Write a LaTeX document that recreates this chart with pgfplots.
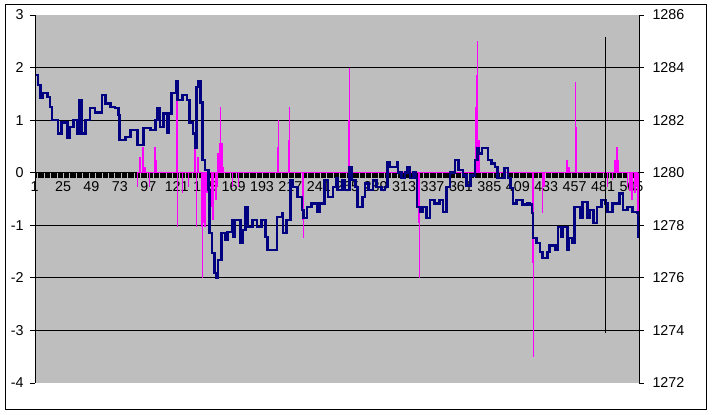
\documentclass[border=0pt]{standalone}
\usepackage{pgfplots}
\pgfplotsset{compat=1.18}
\usepackage{fontspec}
\setmainfont{Liberation Sans}
\definecolor{bggray}{RGB}{190,190,190}
\definecolor{navyline}{RGB}{0,0,128}
\definecolor{mag}{RGB}{255,0,255}
\begin{document}
\begin{tikzpicture}
\useasboundingbox (0,0) rectangle (713bp,415bp);
\fill[white] (0,0) rectangle (713bp,415bp);
\draw[line width=1bp] (5.5bp,5.5bp) rectangle (706.5bp,410.5bp);
\begin{axis}[
  at={(35bp,32bp)}, anchor=south west,
  scale only axis, width=604bp, height=368bp,
  xmin=0.5, xmax=510.5, ymin=-4, ymax=3,
  axis x line=middle, axis y line=left,
  axis line style={-, black, line width=0.8bp},
  axis background/.style={fill=bggray},
  tick align=outside,
  xtick={1,25,...,505},
  xticklabels={1,25,49,73,97,121,145,169,193,217,241,265,289,313,337,361,385,409,433,457,481,505},
  minor xtick={1,...,510},
  ytick={-4,...,3},
  yticklabels={-4,-3,-2,-1,0,1,2,3},
  extra y ticks={-3,-2,-1,1,2},
  extra y tick labels={},
  extra y tick style={grid=major, major tick length=0pt},
  major grid style={black, line width=0.8bp},
  major tick length=5bp, minor tick length=5.5bp,
  tick style={black, line width=0.8bp},
  minor tick style={black, line width=0.85bp},
  tick label style={font=\fontsize{14.3bp}{16bp}\selectfont},
  yticklabel style={xshift=-3bp},
  xticklabel style={xshift=-1bp},
  clip=true,
]
% magenta line along zero
\addplot[mag, line width=0.9bp] coordinates {(87,0) (510,0)};
% thin magenta spikes (full extent)
\addplot[mag, line width=0.9bp, ycomb, mark=none] coordinates {
(87,-0.27) (97,-0.27) (121,-1.03) (125,-0.39) (130,-0.27) (137,-1.03) (141,-1.03)
(142,-2.0) (157,1.25) (167,-0.27) (172,-0.27) (206,1.0) (215,1.25) (227,-1.24)
(266,2.0) (325,-2.0) (374,2.5) (421,-3.5) (429,-0.77) (457,1.73)
(484,-0.27) (488,-0.14) (501,-0.27)
};
% thick magenta spikes
\addplot[mag, line width=2bp, ycomb, mark=none] coordinates {
(89,0.3) (92,0.49) (93,0.11) (102,0.49) (103,0.24) (120,1.52) (136,0.47) (138,0.3)
(143,-0.96) (144,-1.03) (146,-0.39) (150,-0.65) (151,-0.9) (153,-0.52) (154,-0.27)
(155,0.37) (157,0.56) (158,0.56) (159,0.11) (206,0.49) (215,0.62) (227,-0.9)
(266,1.0) (325,-0.96) (373,1.25) (374,1.86) (375,0.62) (421,-1.72) (430,-0.27)
(450,0.24) (451,0.11) (457,0.87) (490,0.24) (492,0.49) (493,0.24) (503,-0.34)
(505,-0.52) (507,-0.39) (509,-0.27) (510,-0.77)
};
\end{axis}
\begin{axis}[
  at={(35bp,32bp)}, anchor=south west,
  scale only axis, width=604bp, height=368bp,
  xmin=0.5, xmax=510.5, ymin=1272, ymax=1286,
  axis x line=none, axis y line*=right,
  axis line style={-, black, line width=0.8bp},
  tick align=outside,
  ytick={1272,1274,...,1286},
  yticklabels={1272,1274,1276,1278,1280,1282,1284,1286},
  major tick length=5bp,
  tick style={black, line width=0.8bp},
  tick label style={font=\fontsize{14.3bp}{16bp}\selectfont},
  yticklabel style={xshift=5bp},
  clip=true,
]
\addplot[navyline, line width=2.6bp, const plot, mark=none] coordinates {
(1,1283.72) (3,1283.34) (5,1282.84) (7,1283.04) (11,1282.88) (13,1282.5) (15,1282.0)
(20,1281.5) (23,1281.9) (28,1281.32) (30,1281.74) (33,1282.0) (36,1281.5) (38,1282.76)
(40,1281.5) (43,1282.0) (47,1282.46) (51,1282.3) (57,1282.96) (60,1282.64) (64,1282.5)
(68,1282.46) (71,1282.2) (72,1281.24) (77,1281.36) (81,1281.62) (87,1281.06) (92,1281.7)
(98,1281.62) (102,1282.0) (104,1282.46) (106,1281.74) (109,1282.26) (112,1281.54)
(113,1282.26) (116,1283.04) (120,1283.46) (121,1282.76) (125,1282.96) (129,1282.76)
(131,1281.9) (134,1281.5) (136,1280.94) (137,1283.26) (138,1283.46) (140,1282.66)
(142,1280.48) (144,1280.1) (147,1279.34) (148,1277.7) (150,1276.94) (152,1276.18)
(154,1276.0) (155,1276.68) (158,1277.7) (161,1277.44) (163,1277.74) (167,1278.2)
(168,1277.56) (169,1278.2) (174,1277.32) (176,1277.82) (178,1278.7) (180,1277.94)
(184,1278.2) (188,1277.94) (192,1278.2) (195,1277.56) (197,1277.06) (203,1277.06)
(205,1278.32) (209,1278.46) (210,1277.7) (213,1278.2) (216,1279.72) (218,1279.46)
(222,1279.08) (226,1278.58) (227,1278.28) (230,1278.7) (234,1278.84) (239,1278.5)
(241,1278.84) (245,1279.72) (248,1279.08) (252,1279.46) (255,1279.8) (256,1279.34)
(260,1279.72) (262,1279.34) (266,1280.22) (268,1279.72) (271,1279.46) (273,1278.7)
(277,1279.08) (279,1279.6) (282,1279.34) (286,1279.72) (289,1279.46) (293,1279.34)
(296,1279.46) (298,1280.4) (300,1280.22) (306,1280.4) (307,1280.0) (310,1279.8)
(313,1280.0) (315,1280.22) (317,1279.8) (320,1280.0) (322,1279.8) (323,1278.7)
(326,1278.5) (328,1278.7) (331,1278.28) (334,1278.96) (338,1278.84) (342,1278.96)
(345,1278.5) (348,1279.46) (351,1280.0) (355,1280.48) (358,1280.1) (362,1279.9)
(365,1279.52) (368,1279.9) (372,1280.48) (374,1280.94) (375,1280.74) (378,1280.94)
(383,1280.48) (386,1280.36) (389,1280.22) (391,1279.8) (397,1280.18) (400,1279.8)
(402,1279.42) (404,1278.84) (407,1278.96) (412,1278.78) (416,1278.84) (418,1278.78)
(420,1278.46) (421,1277.52) (424,1277.32) (427,1276.98) (429,1276.76) (433,1276.98)
(435,1277.24) (440,1277.06) (442,1277.94) (445,1277.56) (446,1277.94) (450,1277.06)
(451,1277.52) (454,1277.32) (456,1278.7) (461,1278.28) (463,1278.88) (467,1278.28)
(469,1278.58) (472,1278.08) (475,1278.7) (479,1278.96) (482,1278.84) (484,1278.5)
(488,1278.84) (492,1278.84) (494,1279.22) (497,1278.58) (501,1278.7) (505,1278.5)
(509,1278.46) (510,1277.52)
};
\addplot[black, line width=0.9bp, mark=none] coordinates {(482,1285.16) (482,1273.9)};
\end{axis}
\end{tikzpicture}
\end{document}
